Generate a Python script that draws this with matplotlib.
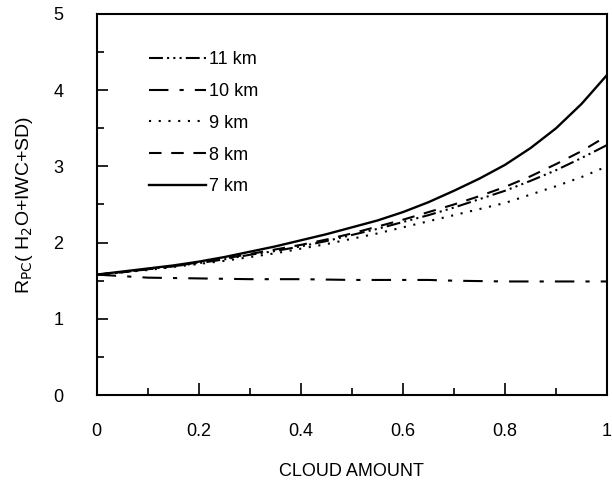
import matplotlib
matplotlib.use("Agg")
from matplotlib import pyplot as plt
from matplotlib.ticker import MultipleLocator

plt.rcParams['font.family'] = ['Liberation Sans', 'DejaVu Sans']
plt.rcParams['lines.scale_dashes'] = False

# cloud amount and ratio values
cloud = [0.0, 0.05, 0.1, 0.15, 0.2, 0.25, 0.3, 0.35, 0.4, 0.45, 0.5,
         0.55, 0.6, 0.65, 0.7, 0.75, 0.8, 0.85, 0.9, 0.95, 1.0]
r_7km = [1.58, 1.62, 1.66, 1.70, 1.75, 1.81, 1.88, 1.95, 2.03, 2.11, 2.20,
         2.29, 2.40, 2.53, 2.68, 2.84, 3.02, 3.24, 3.50, 3.82, 4.20]
r_8km = [1.58, 1.61, 1.65, 1.69, 1.74, 1.79, 1.85, 1.91, 1.97, 2.04, 2.12,
         2.21, 2.30, 2.40, 2.50, 2.61, 2.73, 2.87, 3.03, 3.20, 3.40]
r_9km = [1.58, 1.61, 1.64, 1.68, 1.72, 1.76, 1.81, 1.86, 1.92, 1.98, 2.05,
         2.12, 2.20, 2.28, 2.36, 2.44, 2.52, 2.63, 2.74, 2.86, 3.00]
r_10km = [1.58, 1.56, 1.54, 1.535, 1.53, 1.525, 1.52, 1.52, 1.52, 1.515, 1.51,
          1.51, 1.51, 1.51, 1.50, 1.495, 1.49, 1.49, 1.49, 1.49, 1.49]
r_11km = [1.58, 1.61, 1.65, 1.69, 1.73, 1.78, 1.84, 1.89, 1.95, 2.02, 2.10,
          2.18, 2.27, 2.36, 2.46, 2.57, 2.68, 2.81, 2.95, 3.11, 3.28]

labels = ['11 km', '10 km', '9 km', '8 km', '7 km']
xtick_vals = [0, 0.2, 0.4, 0.6, 0.8, 1.0]
xtick_text = ['0', '0.2', '0.4', '0.6', '0.8', '1']

fig = plt.figure(figsize=(6.12, 4.8), dpi=100)
ax = fig.add_axes([0.158, 0.177, 0.834, 0.794])

l7, = ax.plot(cloud, r_7km, color='black', lw=1.7, linestyle='-')
l8, = ax.plot(cloud, r_8km, color='black', lw=1.5, linestyle=(0, (9, 7)))
l9, = ax.plot(cloud, r_9km, color='black', lw=1.5, linestyle=(0, (1.5, 5.5)))
l10, = ax.plot(cloud, r_10km, color='black', lw=1.5, linestyle=(0, (14, 8, 3, 8)))
l11, = ax.plot(cloud, r_11km, color='black', lw=1.5,
               linestyle=(0, (10, 3, 1.5, 3, 1.5, 3, 1.5, 3)))

ax.legend([l11, l10, l9, l8, l7], labels, loc='upper left',
          bbox_to_anchor=(0.07, 0.945), frameon=False, fontsize=13,
          handlelength=3.2, handletextpad=0.15, labelspacing=0.82)

ax.set_xlim(0, 1)
ax.set_ylim(0, 5)
ax.xaxis.set_minor_locator(MultipleLocator(0.1))
ax.yaxis.set_major_locator(MultipleLocator(1))
ax.yaxis.set_minor_locator(MultipleLocator(0.5))
ax.set_xticks(xtick_vals)
ax.set_xticklabels(xtick_text)

ax.tick_params(axis='both', which='both', direction='in', top=False, right=False,
               labelsize=13, width=1.2)
ax.tick_params(axis='x', which='major', length=9, pad=20)
ax.tick_params(axis='x', which='minor', length=5)
ax.tick_params(axis='y', which='major', length=8, pad=24)
ax.tick_params(axis='y', which='minor', length=5)
for s in ax.spines.values():
    s.set_linewidth(1.5)

ax.set_xlabel('CLOUD AMOUNT', fontsize=13, labelpad=17)
ax.set_ylabel(r'R$_{\mathrm{PC}}$( H$_2$O+IWC+SD)', fontsize=14, labelpad=13)

fig.savefig('out.png', dpi=100)
